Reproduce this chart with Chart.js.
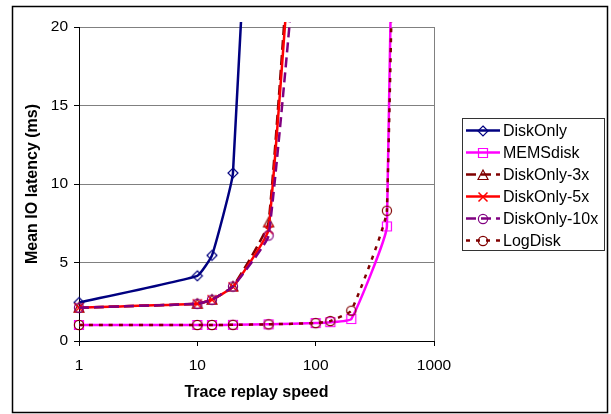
<!DOCTYPE html>
<html>
<head>
<meta charset="utf-8">
<script src="https://cdn.jsdelivr.net/npm/chart.js@4/dist/chart.umd.min.js"></script>
<style>
  body { margin: 0; background: #fff; }
  #wrap { width: 611px; height: 414px; }
</style>
</head>
<body>
<div id="wrap"><canvas id="lineChart" width="611" height="414"></canvas></div>
<script>
// replay speeds (x), shared by all series
const speeds = [1, 10, 13.3, 20, 40, 100, 133, 200, 400, 1000];
const xTicks = [1, 10, 100, 1000];
const yTicks = [0, 5, 10, 15, 20];

const seriesNames = ["DiskOnly", "MEMSdisk", "DiskOnly-3x", "DiskOnly-5x", "DiskOnly-10x", "LogDisk"];

// mean IO latency (ms); last points run off the top
const diskOnly   = [2.45, 4.15, 5.45, 10.7, 55];
const memsDisk   = [1.02, 1.02, 1.02, 1.03, 1.06, 1.14, 1.2, 1.4, 7.3, 190];
const diskOnly3x = [2.12, 2.37, 2.63, 3.47, 7.55, 50];
const diskOnly5x = [2.12, 2.37, 2.63, 3.45, 7.1, 48];
const diskOnly10x = [2.12, 2.37, 2.63, 3.47, 6.72, 39];
const logDisk    = [1.02, 1.02, 1.02, 1.03, 1.06, 1.14, 1.27, 1.93, 8.3, 180];

const FONT = "'Liberation Sans', Arial, sans-serif";

function makeMarker(kind, color) {
    const c = document.createElement("canvas");
    c.width = 14; c.height = 14;
    const g = c.getContext("2d");
    g.strokeStyle = color;
    g.lineWidth = 1.2;
    g.beginPath();
    if (kind === "diamond") {
        g.moveTo(7, 2); g.lineTo(12, 7); g.lineTo(7, 12); g.lineTo(2, 7); g.closePath();
    } else if (kind === "square") {
        g.rect(2.5, 2.5, 9, 9);
    } else if (kind === "triangle") {
        g.moveTo(7, 2); g.lineTo(12, 11.5); g.lineTo(2, 11.5); g.closePath();
    } else if (kind === "cross") {
        g.lineWidth = 1.5;
        g.moveTo(2.5, 2.5); g.lineTo(11.5, 11.5);
        g.moveTo(11.5, 2.5); g.lineTo(2.5, 11.5);
    } else {
        g.arc(7, 7, 4.6, 0, Math.PI * 2);
    }
    g.stroke();
    return c;
}

const styles = [
    { color: "#000080", dash: [], marker: "diamond" },
    { color: "#FF00FF", dash: [], marker: "square" },
    { color: "#800000", dash: [10, 5], marker: "triangle" },
    { color: "#FF0000", dash: [], marker: "cross" },
    { color: "#800080", dash: [10, 5], marker: "circle" },
    { color: "#800000", dash: [4, 6], marker: "circle" }
];
const values = [diskOnly, memsDisk, diskOnly3x, diskOnly5x, diskOnly10x, logDisk];

const datasets = seriesNames.map((name, i) => {
    const st = styles[i];
    const img = makeMarker(st.marker, st.color);
    st.img = img;
    return {
        label: name,
        data: values[i].map((v, k) => ({ x: speeds[k], y: v })),
        borderColor: st.color,
        backgroundColor: st.color,
        borderWidth: 2.5,
        borderDash: st.dash,
        pointStyle: img,
        pointRadius: 5,
        tension: 0.12,
        capBezierPoints: false,
        clip: { left: 8, top: 5, right: 8, bottom: 8 },
        order: seriesNames.length - i
    };
});

const framePlugin = {
    id: "frame",
    afterDraw(chart) {
        const ctx = chart.ctx;
        const a = chart.chartArea;
        ctx.save();
        // plot area right edge
        ctx.strokeStyle = "#808080";
        ctx.lineWidth = 1;
        ctx.beginPath();
        ctx.moveTo(Math.round(a.right) + 0.5, a.top);
        ctx.lineTo(Math.round(a.right) + 0.5, a.bottom);
        ctx.stroke();
        // outer border
        ctx.strokeStyle = "#000";
        ctx.lineWidth = 1.5;
        ctx.strokeRect(12.5, 6.5, 595, 406);
        // legend
        ctx.strokeStyle = "#333";
        ctx.lineWidth = 1;
        ctx.strokeRect(462.5, 118.5, 142, 132);
        ctx.font = "16px " + FONT;
        ctx.textBaseline = "middle";
        ctx.fillStyle = "#000";
        seriesNames.forEach((name, i) => {
            const st = styles[i];
            const y = 130.5 + i * 22;
            ctx.strokeStyle = st.color;
            ctx.lineWidth = 2.5;
            ctx.setLineDash(st.dash);
            ctx.beginPath();
            ctx.moveTo(466, y);
            ctx.lineTo(500, y);
            ctx.stroke();
            ctx.setLineDash([]);
            ctx.drawImage(st.img, 483 - 7, Math.round(y) - 7);
            ctx.fillText(name, 503, y + 1);
        });
        ctx.restore();
    }
};

const ctx = document.getElementById("lineChart").getContext("2d");
new Chart(ctx, {
    type: "line",
    data: { datasets: datasets },
    plugins: [framePlugin],
    options: {
        responsive: false,
        animation: false,
        layout: { padding: { left: 0, right: 177, top: 27, bottom: 0 } },
        plugins: { legend: { display: false }, tooltip: { enabled: false } },
        scales: {
            x: {
                type: "logarithmic",
                min: 1,
                max: 1000,
                afterFit: s => { s.height = 73; },
                afterBuildTicks: s => { s.ticks = xTicks.map(v => ({ value: v })); },
                ticks: {
                    callback: v => String(v),
                    font: { family: FONT, size: 15.5 },
                    color: "#000",
                    padding: 10,
                    maxRotation: 0,
                    autoSkip: false
                },
                grid: { drawOnChartArea: false, drawTicks: true, tickLength: 5, tickColor: "#000" },
                border: { color: "#000", width: 1 },
                title: {
                    display: true,
                    text: "Trace replay speed",
                    font: { family: FONT, size: 16, weight: "bold" },
                    color: "#000",
                    padding: { top: 0, bottom: 11.7 }
                }
            },
            y: {
                min: 0,
                max: 20,
                afterFit: s => { s.width = 79; },
                afterBuildTicks: s => { s.ticks = yTicks.map(v => ({ value: v })); },
                ticks: {
                    font: { family: FONT, size: 15.5 },
                    color: "#000",
                    padding: 6
                },
                grid: { color: "#808080", tickLength: 5, tickColor: "#000" },
                border: { color: "#000", width: 1 },
                title: {
                    display: true,
                    text: "Mean IO latency (ms)",
                    font: { family: FONT, size: 16, weight: "bold" },
                    color: "#000",
                    padding: { top: 23.4, bottom: 0 }
                }
            }
        }
    }
});
</script>
</body>
</html>
